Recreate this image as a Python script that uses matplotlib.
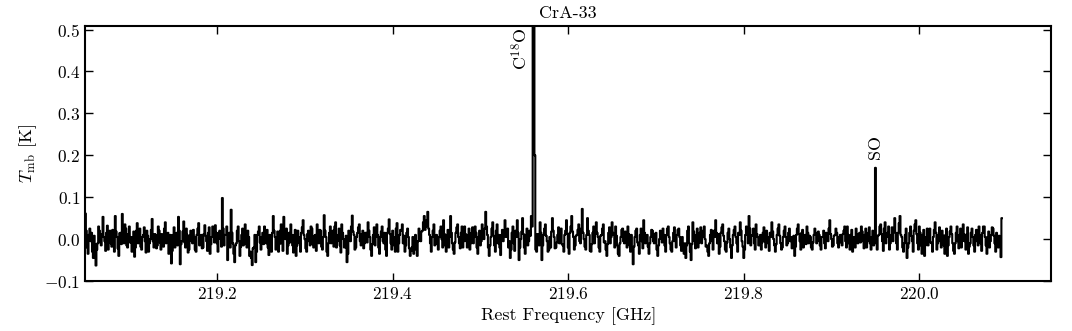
import numpy as np
import matplotlib
matplotlib.use('Agg')
import matplotlib.pyplot as plt

plt.rcParams['font.family'] = 'serif'
plt.rcParams['font.serif'] = ['cmr10']
plt.rcParams['mathtext.fontset'] = 'cm'
plt.rcParams['axes.formatter.use_mathtext'] = True

# spectrum of CrA-33, first channel 219.050 GHz, 1 MHz channels, values in mK
f_start = 219.050
f_step = 0.001
tmb_mK = [
    61, 20, -20, -35, 10, 25, -5, 15, -30, -45, 8, -12, -63, -25, -10, 30, 20, -8, -15, 12,
    53, 5, -5, -28, 15, 32, -25, 8, 20, -10, -18, 22, 10, -30, 55, 18, 5, -22, -40, 14,
    15, -12, 60, 22, -10, 35, 25, -15, -20, 12, 30, -8, 5, -30, -15, 18, -42, -20, 20, 38,
    -10, 15, 25, -18, -25, 5, 10, 28, -5, -32, 20, 8, -30, -10, 0, 22, 48, -5, -20, 12,
    10, -22, -15, 30, 20, -8, -25, 12, 5, -18, 25, 40, -10, 5, 15, -35, -30, 10, -58, -28,
    10, 28, -20, 2, 15, -15, 53, 20, -60, -12, -5, 18, 42, -8, -20, 25, 10, -32, -25, 8,
    20, -5, -10, 22, 5, -25, -30, 10, 25, 38, -15, 5, 10, -22, -20, 12, 33, 8, -5, -28,
    15, 28, -35, -12, 5, 30, 20, -8, 33, 15, -10, -30, 15, 20, 0, -18, 98, 25, -15, 10,
    10, 30, -50, -10, 15, -20, 70, 15, -10, -35, -55, -15, -10, 20, 30, -5, -40, -18, 10, 25,
    -15, 8, 35, -12, -20, 20, 5, -40, -30, -45, -62, -22, -20, 10, -55, -30, 10, 18, 30, -8,
    -25, 5, 15, -12, 30, 12, -10, 22, -20, -38, 10, -5, -30, 15, 55, 20, 5, -25, -15, 18,
    -30, -12, 20, 35, -10, -28, 53, 12, 0, 25, -35, -15, 15, -8, 35, 10, -15, -32, 10, 22,
    -40, -15, 20, 5, -10, -30, 15, 28, 45, 10, 0, -22, -30, 12, 20, -5, -15, 30, 25, -12,
    -20, 8, 10, -28, 35, 15, -10, 22, 20, -18, -25, 5, 57, 20, 5, -30, -40, -10, 15, 30,
    -10, 12, 20, -18, 30, 40, -20, -5, 10, 25, -15, -32, 35, 15, 0, -20, -20, 8, -55, -35,
    20, 5, -5, 30, 56, 18, 10, -25, -20, 5, 15, 28, 35, -5, -15, 12, 20, -22, -10, 15,
    15, -8, 40, 20, 5, -25, -40, -12, 10, 28, -15, 5, 35, 10, -20, -35, 5, 18, 30, -5,
    -10, 15, -25, -40, 15, 25, 47, 12, -10, -25, 20, 5, -15, -30, 25, 38, -30, -10, 10, 22,
    20, 35, -10, 8, -30, -15, 15, 25, 5, -22, -40, -28, -20, 5, -35, -15, 10, -25, -40, -5,
    25, 10, -5, 18, 20, 40, 55, 22, 30, 45, 65, 25, 10, -10, -30, 5, 20, 35, -15, 8,
    10, -12, -25, 5, 20, 30, 0, -20, 45, 12, -15, -30, 10, 22, -20, 5, 55, 15, -10, -25,
    -35, -8, 15, 28, 35, 5, -10, -22, 15, 30, -20, -5, 30, 12, -5, -20, 10, 25, -25, -10,
    15, 28, -10, 5, 30, 15, -20, -35, 5, 20, -15, -5, 35, 12, 0, 25, 65, 30, 10, -20,
    -40, -15, 5, 25, 40, 8, -15, -30, 20, 35, -10, 10, -20, -38, 10, 22, -5, 15, 45, 5,
    5, 25, -20, -5, -45, -25, 15, 30, -10, -28, 20, 5, 45, 15, -50, -20, 0, 18, 50, 12,
    -20, -35, 10, 25, -15, -5, 20, 8, 55, 30, 560, 520, 200, -25, -30, 12, 10, -15, 40, 15,
    -50, -15, 10, 25, 35, 8, -5, -30, -25, 5, -20, 18, 50, 20, 5, -22, -20, -8, 10, 28,
    -10, 5, 25, -12, -15, -30, 10, 20, 45, 12, -20, -35, 15, 30, 55, 18, 5, -25, -15, 8,
    10, 22, 35, -5, -10, 25, 72, 15, 0, -18, -25, 10, 50, 20, 10, -28, -30, -12, 15, 30,
    -10, 12, 40, 15, 5, -20, -30, 8, 10, 25, 35, -8, -5, -25, -40, -12, 15, 28, -10, 5,
    40, 15, 10, -20, 30, 8, -15, -35, -40, -10, 5, 22, 25, -5, -10, 18, 15, -20, 30, 12,
    -15, -30, 10, -25, -60, -18, 5, 20, 25, -8, -15, -35, 10, 25, -5, -22, 45, 15, -10, 5,
    10, -18, -35, -10, 5, 22, 20, -5, -10, 12, 15, -25, -40, -15, 0, 20, 15, -8, 25, 10,
    -15, -30, 10, 25, 30, 5, -10, -25, -30, -5, 15, 28, -5, -20, 10, 22, 25, 5, -15, -28,
    5, -20, -35, -10, -45, -15, 20, 30, -10, -30, -50, -12, 40, 18, -5, -22, 10, 25, -20, -8,
    15, 28, -10, 5, 20, 30, 0, -18, -15, -30, -40, -10, 10, 22, -5, -25, 20, 5, 45, 15,
    -10, 12, -35, -18, 15, 28, 35, 8, -5, -25, -30, -8, 15, 25, 0, -20, -45, -15, 10, 22,
    30, 5, -10, -30, 15, 10, 40, 20, -5, -18, -45, -25, 10, 30, 20, -10, 55, 25, -15, 8,
    10, 25, -10, -25, 35, 12, 5, -15, -15, 10, -25, -8, 15, 28, -5, -20, 20, 5, -10, -28,
    15, 5, 40, 18, 0, -15, -30, -12, 10, 25, 35, 8, -10, -25, -20, 5, 20, 30, 5, -15,
    -10, 15, 25, -5, 5, -22, -15, 8, -40, -18, 10, 25, 35, 12, -5, -25, 15, 22, -20, -5,
    10, -12, 30, 15, -10, 8, 5, -20, -25, -8, 10, 25, 15, -10, -5, 18, 10, -15, -25, 5,
    5, 20, -10, -22, 15, 5, -5, 25, 45, 12, 0, -18, -15, 8, 10, 25, 15, -10, -20, 5,
    10, -8, -15, 12, 20, 30, -5, -20, 30, 10, -10, -25, 10, 22, -30, -15, 5, -20, 25, 10,
    -10, 12, 15, -8, 30, 18, -5, -22, 10, 25, -20, -5, 15, 28, -10, -25, 5, 20, -15, 5,
    170, -10, -25, 8, 10, 30, 35, 12, -5, -28, 25, 40, -10, 5, 15, 30, -25, -10, 10, 28,
    -5, 20, 50, 15, -10, -25, 15, 38, 55, 10, 5, -20, -30, -10, 10, 25, -45, -20, -10, 15,
    30, 8, -5, -30, 20, 35, 45, 12, -10, -25, 30, 15, -15, -35, 10, 22, -40, -15, 5, 25,
    -15, 10, 25, -8, -10, -30, 5, 22, 40, 15, -25, -10, 10, 28, -5, -20, 20, 8, -15, -35,
    10, 25, -40, -15, 5, 18, 30, 12, -10, -28, -35, -10, 15, 30, -5, -22, 10, 25, -20, -5,
    35, 12, -5, -25, 10, 28, -35, -18, -10, 15, 25, 5, -15, -30, 10, 22, -5, -15, 30, 10,
    -10, -28, 15, 30, 30, 5, -15, -35, 5, 18, -20, -5, 10, 28, 25, 8, -10, -30, 15, 5,
    -20, 8, -15, -43, 50,
]
line_names = ['C$^{18}$O', 'SO']
line_freqs = [219.5604, 219.9494]
line_label_y = [0.505, 0.19]

tmb = np.array(tmb_mK) / 1000.0
freq = f_start + f_step * np.arange(len(tmb))

fig = plt.figure(figsize=(10.72, 3.31), dpi=100)
ax = fig.add_axes([0.0797, 0.151, 0.9007, 0.770])
ax.plot(freq, tmb, color='black', lw=1.5, drawstyle='steps-mid')

ax.text(line_freqs[0] - 0.004, line_label_y[0], line_names[0], rotation=90,
        ha='right', va='top', fontsize=13)
ax.text(line_freqs[1], line_label_y[1], line_names[1], rotation=90,
        ha='center', va='bottom', fontsize=13)

ax.set_xlim(219.05, 220.15)
ax.set_ylim(-0.1, 0.508)
ax.set_xticks([219.2, 219.4, 219.6, 219.8, 220.0])
ax.set_yticks([-0.1, 0.0, 0.1, 0.2, 0.3, 0.4, 0.5])
ax.tick_params(direction='in', top=True, right=True, length=6, width=1, labelsize=12.5)
for s in ax.spines.values():
    s.set_linewidth(1.5)
ax.set_title('CrA-33', fontsize=13)
ax.set_xlabel('Rest Frequency [GHz]', fontsize=13)
ax.set_ylabel(r'$T_{\rm mb}$ [K]', fontsize=13)

fig.savefig('out.png', dpi=100)
